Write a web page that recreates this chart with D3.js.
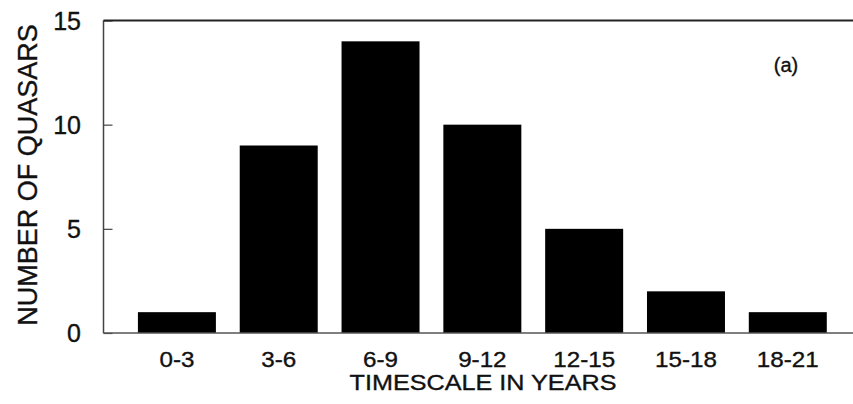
<!DOCTYPE html>
<html>
<head>
<meta charset="utf-8">
<script src="https://cdn.jsdelivr.net/npm/d3@7"></script>
<style>
    body { margin: 0; background: #fff; }
    text { font-family: "Liberation Sans", Arial, sans-serif; fill: #111; stroke: #111; stroke-width: 0.35px; }
</style>
</head>
<body>
<script>
(function(){

    //chart data
    var categories = ["0-3", "3-6", "6-9", "9-12", "12-15", "15-18", "18-21"]; //timescale bins
    var counts = [1, 9, 14, 10, 5, 2, 1]; //number of quasars per bin
    var yTicks = [0, 5, 10, 15]; //y tick values

    window.onload = setChart();

    function setChart(){
        //frame dimensions
        var width = 853,
            height = 404,
            axisLeft = 103.5,
            axisRight = 853,
            plotTop = 20.5,
            plotBottom = 333;

        var svg = d3.select("body")
            .append("svg")
            .attr("width", width)
            .attr("height", height);

        //scales
        var xScale = d3.scaleBand()
            .domain(categories)
            .range([126, 838.7])
            .paddingInner(0.234)
            .paddingOuter(0.117);

        var yScale = d3.scaleLinear()
            .domain([0, 15])
            .range([plotBottom, plotTop]);

        //bars
        svg.selectAll(".bars")
            .data(counts)
            .enter()
            .append("rect")
            .attr("class", "bars")
            .attr("x", function(d, i){ return xScale(categories[i]); })
            .attr("width", xScale.bandwidth())
            .attr("y", function(d){ return yScale(d); })
            .attr("height", function(d){ return yScale(0) - yScale(d); })
            .style("fill", "#000");

        //left axis, ticks pointing inward
        var yAxis = d3.axisRight(yScale)
            .tickValues(yTicks)
            .tickSize(9)
            .tickFormat("");
        var yAxisG = svg.append("g")
            .attr("transform", "translate(" + axisLeft + ",0)")
            .call(yAxis);
        yAxisG.select(".domain").remove();
        yAxisG.selectAll("line").attr("stroke", "#444").attr("stroke-width", 1.2);

        svg.append("line")
            .attr("x1", axisLeft).attr("x2", axisLeft)
            .attr("y1", plotTop).attr("y2", plotBottom)
            .attr("stroke", "#444")
            .attr("stroke-width", 1.5);

        //tick labels on the left
        svg.selectAll(".ylab")
            .data(yTicks)
            .enter()
            .append("text")
            .attr("class", "ylab")
            .attr("x", 81)
            .attr("y", function(d){ return yScale(d); })
            .attr("dy", "0.36em")
            .attr("text-anchor", "end")
            .style("font-size", "25px")
            .text(function(d){ return d; });

        //top frame line and bottom axis line
        svg.append("line")
            .attr("x1", axisLeft).attr("x2", axisRight)
            .attr("y1", plotTop).attr("y2", plotTop)
            .attr("stroke", "#222")
            .attr("stroke-width", 1.8);

        svg.append("line")
            .attr("x1", axisLeft).attr("x2", axisRight)
            .attr("y1", plotBottom).attr("y2", plotBottom)
            .attr("stroke", "#555")
            .attr("stroke-width", 1.5);

        //x category labels
        svg.selectAll(".xlab")
            .data(categories)
            .enter()
            .append("text")
            .attr("class", "xlab")
            .attr("text-anchor", "middle")
            .attr("transform", function(d){
                return "translate(" + (xScale(d) + xScale.bandwidth() / 2) + ",367) scale(1.1,1)";
            })
            .style("font-size", "22px")
            .text(function(d){ return d; });

        //axis titles
        svg.append("text")
            .attr("text-anchor", "middle")
            .attr("transform", "translate(483,390) scale(1.12,1)")
            .style("font-size", "22.5px")
            .text("TIMESCALE IN YEARS");

        svg.append("text")
            .attr("text-anchor", "middle")
            .attr("transform", "translate(37,175) rotate(-90)")
            .style("font-size", "27px")
            .text("NUMBER OF QUASARS");

        //panel label
        svg.append("text")
            .attr("text-anchor", "middle")
            .attr("x", 786)
            .attr("y", 72)
            .style("font-size", "20px")
            .text("(a)");
    };

})();
</script>
</body>
</html>
